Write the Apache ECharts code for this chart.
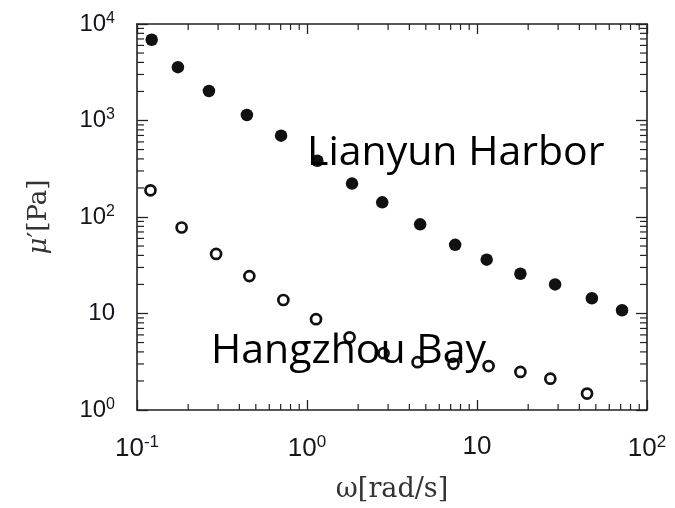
<!DOCTYPE html>
<html>
<head>
<meta charset="utf-8">
<script src="https://cdn.jsdelivr.net/npm/echarts@6/dist/echarts.min.js"></script>
<style>
html,body{margin:0;padding:0;background:#fff;}
#chart{width:675px;height:508px;}
</style>
</head>
<body>
<div id="chart"></div>
<script>
// Data
var omegaLianyun = [0.122, 0.174, 0.265, 0.443, 0.704, 1.15, 1.84, 2.77, 4.63, 7.44, 11.4, 18.0, 28.8, 47.4, 71.3];
var muLianyun    = [6870, 3570, 2020, 1140, 697, 383, 222, 142, 84, 51.5, 36.1, 25.8, 20.0, 14.4, 10.8];
var omegaHangzhou = [0.120, 0.183, 0.292, 0.458, 0.726, 1.13, 1.78, 2.82, 4.47, 7.27, 11.7, 18.0, 27.0, 44.4];
var muHangzhou    = [189, 77.8, 41.4, 24.4, 13.8, 8.74, 5.67, 3.88, 3.13, 3.01, 2.85, 2.48, 2.11, 1.48];

var xTickLabels = ['10{sup|-1}', '10{sup|0}', '10', '10{sup|2}'];
var yTickLabels = ['10{sup|0}', '10', '10{sup|2}', '10{sup|3}', '10{sup|4}'];
var labelLianyun = 'Lianyun Harbor';
var labelHangzhou = 'Hangzhou Bay';

var xMin = 0.1, xMax = 100, yMin = 1, yMax = 10000;

function minorTicks(lo, hi) {
  var out = [];
  for (var d = lo; d < hi; d *= 10) {
    for (var k = 2; k <= 9; k++) out.push(+(d * k).toPrecision(6));
  }
  return out;
}
var xMinor = minorTicks(xMin, xMax);
var yMinor = minorTicks(yMin, yMax);

function zip(a, b) { return a.map(function (v, i) { return [v, b[i]]; }); }

function labelFmt(list, lo) {
  return function (v) {
    var i = Math.round(Math.log10(v) - Math.log10(lo));
    return list[i] !== undefined ? list[i] : '';
  };
}

var tickFont = '"Liberation Sans Narrow", "Liberation Sans", Arial, sans-serif';
var tickColor = '#15151f';

var axisLineStyle = { color: '#222', width: 1.6 };

var chart = echarts.init(document.getElementById('chart'), null, { renderer: 'canvas' });
chart.setOption({
  backgroundColor: '#fff',
  animation: false,
  grid: { left: 137, top: 24, right: 28, bottom: 95, containLabel: false },
  xAxis: [{
    type: 'log', logBase: 10, min: xMin, max: xMax, interval: 1,
    position: 'bottom',
    name: 'ω[rad/s]', nameLocation: 'middle', nameGap: 66,
    nameTextStyle: { fontFamily: 'DejaVu Serif', fontSize: 27, color: '#333' },
    axisLine: { show: true, onZero: false, lineStyle: axisLineStyle },
    axisTick: { show: true, inside: true, length: 10, lineStyle: { color: '#222', width: 1.3 } },
    minorTick: { show: false },
    splitLine: { show: false },
    axisLabel: { margin: 24, fontSize: 26, fontFamily: tickFont, color: tickColor,
      formatter: labelFmt(xTickLabels, xMin),
      rich: { sup: { fontSize: 17, fontFamily: tickFont, color: tickColor, verticalAlign: 'top', padding: [0, 0, 12, 0] } } }
  }, {
    type: 'log', logBase: 10, min: xMin, max: xMax, interval: 1,
    position: 'top',
    axisLine: { show: true, onZero: false, lineStyle: axisLineStyle },
    axisTick: { show: true, inside: true, length: 10, lineStyle: { color: '#222', width: 1.3 } },
    axisLabel: { show: false }, splitLine: { show: false }
  }],
  yAxis: [{
    type: 'log', logBase: 10, min: yMin, max: yMax, interval: 1,
    position: 'left',
    name: '{i|μ}′[Pa]', nameLocation: 'middle', nameGap: 85, nameRotate: 90,
    nameTextStyle: { fontFamily: 'DejaVu Serif', fontSize: 26, color: '#333',
      rich: { i: { fontFamily: 'DejaVu Serif', fontStyle: 'italic', fontSize: 26, color: '#333' } } },
    axisLine: { show: true, onZero: false, lineStyle: axisLineStyle },
    axisTick: { show: true, inside: true, length: 11, lineStyle: { color: '#222', width: 1.3 } },
    splitLine: { show: false },
    axisLabel: { margin: 22, fontSize: 24, fontFamily: tickFont, color: tickColor,
      formatter: labelFmt(yTickLabels, yMin),
      rich: { sup: { fontSize: 16, fontFamily: tickFont, color: tickColor, verticalAlign: 'top', padding: [0, 0, 11, 0] } } }
  }, {
    type: 'log', logBase: 10, min: yMin, max: yMax, interval: 1,
    position: 'right',
    axisLine: { show: true, onZero: false, lineStyle: axisLineStyle },
    axisTick: { show: true, inside: true, length: 11, lineStyle: { color: '#222', width: 1.3 } },
    axisLabel: { show: false }, splitLine: { show: false }
  }],
  series: [{
    type: 'custom', xAxisIndex: 0, yAxisIndex: 0, silent: true, clip: false,
    data: xMinor.map(function (v) { return [v, yMin]; }),
    renderItem: function (params, api) {
      var b = api.coord([api.value(0), yMin]);
      var t = api.coord([api.value(0), yMax]);
      var st = { stroke: '#222', lineWidth: 1.2 };
      return { type: 'group', children: [
        { type: 'line', shape: { x1: b[0], y1: b[1], x2: b[0], y2: b[1] - 6 }, style: st },
        { type: 'line', shape: { x1: t[0], y1: t[1], x2: t[0], y2: t[1] + 6 }, style: st }
      ]};
    }
  }, {
    type: 'custom', xAxisIndex: 0, yAxisIndex: 0, silent: true, clip: false,
    data: yMinor.map(function (v) { return [xMin, v]; }),
    renderItem: function (params, api) {
      var l = api.coord([xMin, api.value(1)]);
      var r = api.coord([xMax, api.value(1)]);
      var st = { stroke: '#222', lineWidth: 1.2 };
      return { type: 'group', children: [
        { type: 'line', shape: { x1: l[0], y1: l[1], x2: l[0] + 7, y2: l[1] }, style: st },
        { type: 'line', shape: { x1: r[0], y1: r[1], x2: r[0] - 7, y2: r[1] }, style: st }
      ]};
    }
  }, {
    name: labelLianyun, type: 'scatter', xAxisIndex: 0, yAxisIndex: 0,
    data: zip(omegaLianyun, muLianyun),
    symbol: 'circle', symbolSize: 12.5,
    itemStyle: { color: '#111', opacity: 1 }
  }, {
    name: labelHangzhou, type: 'scatter', xAxisIndex: 0, yAxisIndex: 0,
    data: zip(omegaHangzhou, muHangzhou),
    symbol: 'circle', symbolSize: 10,
    itemStyle: { color: 'rgba(0,0,0,0)', borderColor: '#111', borderWidth: 2.7, opacity: 1 }
  }],
  graphic: [{
    type: 'text', left: 307, top: 133, z: 100,
    style: { text: labelLianyun, font: '41px "Open Sans"', fill: '#000' }
  }, {
    type: 'text', left: 211, top: 331, z: 100,
    style: { text: labelHangzhou, font: '41px "Open Sans"', fill: '#000' }
  }]
});
</script>
</body>
</html>
